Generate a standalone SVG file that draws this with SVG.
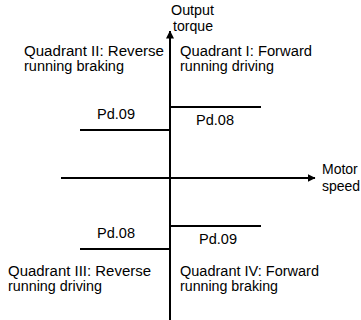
<svg xmlns="http://www.w3.org/2000/svg" width="361" height="320" viewBox="0 0 361 320">
<style>
text{font-family:"Liberation Sans",Arial,sans-serif;font-size:14px;fill:#000}
.ln{stroke:#000;stroke-width:2;fill:none}
</style>
<defs>
<marker id="ah" markerWidth="8" markerHeight="8" refX="7.5" refY="4" orient="auto" markerUnits="userSpaceOnUse">
<path d="M0,0 L8,4 L0,8 Z" fill="#000"/>
</marker>
</defs>
<rect width="361" height="320" fill="#fff"/>
<g id="connectors">
<line class="ln" x1="170" y1="320" x2="170" y2="31" marker-end="url(#ah)"/>
<line class="ln" x1="61" y1="178" x2="315" y2="178" marker-end="url(#ah)"/>
<line class="ln" x1="170" y1="107" x2="261" y2="107"/>
<line class="ln" x1="80" y1="130" x2="170" y2="130"/>
<line class="ln" x1="170" y1="226" x2="261" y2="226"/>
<line class="ln" x1="80" y1="249" x2="170" y2="249"/>
</g>
<g id="y-axis-label"><text x="171" y="15" textLength="43" lengthAdjust="spacingAndGlyphs">Output</text><text x="173" y="31" textLength="40" lengthAdjust="spacingAndGlyphs">torque</text></g>
<g id="x-axis-label"><text x="322" y="174">Motor</text><text x="322" y="191">speed</text></g>
<g id="q2"><text x="24" y="56" textLength="140" lengthAdjust="spacingAndGlyphs">Quadrant II: Reverse</text><text x="24" y="71" textLength="100" lengthAdjust="spacingAndGlyphs">running braking</text></g>
<g id="q1"><text x="180" y="56" textLength="132" lengthAdjust="spacingAndGlyphs">Quadrant I: Forward</text><text x="180" y="71" textLength="94" lengthAdjust="spacingAndGlyphs">running driving</text></g>
<g id="q3"><text x="8" y="276" textLength="143" lengthAdjust="spacingAndGlyphs">Quadrant III: Reverse</text><text x="8" y="291" textLength="94" lengthAdjust="spacingAndGlyphs">running driving</text></g>
<g id="q4"><text x="180" y="276" textLength="139" lengthAdjust="spacingAndGlyphs">Quadrant IV: Forward</text><text x="180" y="291" textLength="98" lengthAdjust="spacingAndGlyphs">running braking</text></g>
<g id="pd09-upper"><text x="97" y="119" textLength="38" lengthAdjust="spacingAndGlyphs">Pd.09</text></g>
<g id="pd08-upper"><text x="196" y="125" textLength="38" lengthAdjust="spacingAndGlyphs">Pd.08</text></g>
<g id="pd08-lower"><text x="97" y="238" textLength="38" lengthAdjust="spacingAndGlyphs">Pd.08</text></g>
<g id="pd09-lower"><text x="199" y="244" textLength="38" lengthAdjust="spacingAndGlyphs">Pd.09</text></g>
</svg>
